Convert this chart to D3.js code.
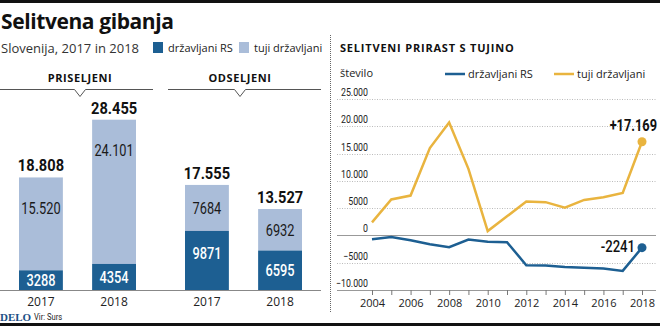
<!DOCTYPE html>
<html>
<head>
<meta charset="utf-8">
<script src="https://cdn.jsdelivr.net/npm/d3@7"></script>
<style>
  body { margin: 0; background: #fff; }
  svg { display: block; font-family: "Open Sans", "Noto Sans", sans-serif; }
  .num { font-family: "Roboto", "Liberation Sans", sans-serif; }
</style>
</head>
<body>
<script>
"use strict";

// stolpci: priseljeni / odseljeni, 2017 in 2018
var groups = ["PRISELJENI", "ODSELJENI"];
var barYears = ["2017", "2018"];
var drzavljaniRS = [[3288, 4354], [9871, 6595]];
var tujiDrzavljani = [[15520, 24101], [7684, 6932]];
var totals = [[18808, 28455], [17555, 13527]];

// selitveni prirast s tujino
var years = [2004, 2005, 2006, 2007, 2008, 2009, 2010, 2011, 2012, 2013, 2014, 2015, 2016, 2017, 2018];
var prirastRS = [-680, -310, -900, -1600, -2150, -740, -1170, -1230, -5460, -5500, -5770, -5900, -6050, -6500, -2241];
var prirastTuji = [2400, 6600, 7300, 16000, 20700, 12200, 800, 3500, 6200, 6100, 5100, 6500, 7000, 7800, 17169];
var yTicks = [-10000, -5000, 0, 5000, 10000, 15000, 20000, 25000];
var xTickLabels = [2004, 2006, 2008, 2010, 2012, 2014, 2016, 2018];

var dark = "#1d5f92", light = "#aabdd9", yellow = "#e9b43f";

var loc = d3.formatLocale({decimal: ",", thousands: ".", grouping: [3], currency: ["", ""]});
function fmt(v){
  return Math.abs(v) >= 10000 ? loc.format(",")(v) : loc.format("")(v);
}
// ozka pisava: ni na voljo, zato stisnemo vodoravno
function squeeze(fx, fy, sx){
  return function(d, i){
    var px = typeof fx === "function" ? fx(d, i) : fx;
    var py = typeof fy === "function" ? fy(d, i) : fy;
    return "translate(" + px + "," + py + ") scale(" + sx + ",1)";
  };
}

var width = 660, height = 326;
var svg = d3.select("body").append("svg")
  .attr("width", width)
  .attr("height", height);

// crni robovi
svg.append("rect").attr("x", 0).attr("y", 0).attr("width", width).attr("height", 3).attr("fill", "#111");
svg.append("rect").attr("x", 0).attr("y", 323).attr("width", width).attr("height", 3).attr("fill", "#111");

// naslov
svg.append("text").attr("x", 1).attr("y", 29)
  .attr("font-size", 21).attr("font-weight", 700).attr("fill", "#111")
  .attr("letter-spacing", -0.4)
  .text("Selitvena gibanja");
svg.append("text").attr("x", 1).attr("y", 53)
  .attr("font-size", 13).attr("fill", "#333")
  .text("Slovenija, 2017 in 2018");

// legenda
var leg = [{c: dark, t: "državljani RS", x: 153}, {c: light, t: "tuji državljani", x: 239}];
leg.forEach(function(l){
  svg.append("rect").attr("x", l.x).attr("y", 42).attr("width", 10).attr("height", 11).attr("fill", l.c);
  svg.append("text").attr("x", l.x + 15).attr("y", 52)
    .attr("font-size", 11).attr("fill", "#222").text(l.t);
});

// ---- stolpci
var bx = d3.scaleBand().domain(barYears).range([19, 136]).paddingInner(0.4);
var by = d3.scaleLinear().domain([0, 28455]).range([290, 119.7]);

var headerX = [80, 240];
groups.forEach(function(g, gi){
  var cx = headerX[gi];
  svg.append("text").attr("x", cx).attr("y", 82)
    .attr("text-anchor", "middle").attr("font-size", 11).attr("font-weight", 700)
    .attr("letter-spacing", 0.6).attr("fill", "#111").text(g);
  var x0 = gi === 0 ? 0 : 168, x1 = gi === 0 ? 153 : 321;
  svg.append("path")
    .attr("d", "M" + x0 + ",89.5H" + (cx - 5.5) + "L" + cx + ",96.5L" + (cx + 5.5) + ",89.5H" + x1)
    .attr("fill", "none").attr("stroke", "#555").attr("stroke-width", 1);
});

var offs = [0, 166];
groups.forEach(function(g, gi){
  var gg = svg.append("g").attr("transform", "translate(" + offs[gi] + ",0)");
  var rows = barYears.map(function(y, i){
    return {year: y, rs: drzavljaniRS[gi][i], tuji: tujiDrzavljani[gi][i], total: totals[gi][i]};
  });
  var cxf = function(d){ return bx(d.year) + bx.bandwidth() / 2; };
  var bars = gg.selectAll("g.bar").data(rows).enter().append("g").attr("class", "bar");
  bars.append("rect")
    .attr("x", function(d){ return bx(d.year); })
    .attr("width", bx.bandwidth())
    .attr("y", function(d){ return by(d.rs + d.tuji); })
    .attr("height", function(d){ return by(d.rs) - by(d.rs + d.tuji); })
    .attr("fill", light);
  bars.append("rect")
    .attr("x", function(d){ return bx(d.year); })
    .attr("width", bx.bandwidth())
    .attr("y", function(d){ return by(d.rs); })
    .attr("height", function(d){ return by(0) - by(d.rs); })
    .attr("fill", dark);
  bars.append("text").attr("class", "num")
    .attr("transform", squeeze(cxf, function(d){ return by(d.total) - 6; }, 0.86))
    .attr("text-anchor", "middle").attr("font-size", 17).attr("font-weight", 700)
    .attr("fill", "#111").text(function(d){ return fmt(d.total); });
  bars.append("text").attr("class", "num")
    .attr("transform", squeeze(cxf, function(d){
      var top = by(d.rs + d.tuji), mid = (top + by(d.rs)) / 2;
      return Math.min(mid, top + 31);
    }, 0.8))
    .attr("dy", "0.36em")
    .attr("text-anchor", "middle").attr("font-size", 16)
    .attr("fill", "#1a1a1a").text(function(d){ return fmt(d.tuji); });
  bars.append("text").attr("class", "num")
    .attr("transform", squeeze(cxf, function(d){
      var top = by(d.rs), mid = (top + by(0)) / 2;
      return Math.min(mid, top + 22);
    }, 0.8))
    .attr("dy", "0.36em")
    .attr("text-anchor", "middle").attr("font-size", 16).attr("font-weight", 500)
    .attr("fill", "#fff").text(function(d){ return fmt(d.rs); });
  bars.append("text")
    .attr("x", cxf)
    .attr("y", 306)
    .attr("text-anchor", "middle").attr("font-size", 12)
    .attr("fill", "#222").text(function(d){ return d.year; });
});
svg.append("line").attr("x1", 0).attr("x2", 321).attr("y1", 290.5).attr("y2", 290.5)
  .attr("stroke", "#888").attr("stroke-width", 1);

// vir
svg.append("text").attr("x", 0).attr("y", 321)
  .attr("font-family", "Liberation Serif, DejaVu Serif, serif").attr("font-weight", 700)
  .attr("font-size", 11).attr("fill", "#1d4f86").text("DELO");
svg.append("text").attr("class", "num").attr("transform", "translate(34,320) scale(0.8,1)")
  .attr("font-size", 9.5).attr("fill", "#222").text("Vir: Surs");

// locilna crta
svg.append("line").attr("x1", 330.5).attr("x2", 330.5).attr("y1", 35).attr("y2", 312)
  .attr("stroke", "#666").attr("stroke-dasharray", "1,1");

// ---- crtni grafikon
var x = d3.scaleLinear().domain([2004, 2018]).range([372, 642]);
var y = d3.scaleLinear().domain([-10000, 25000]).range([290, 99]);

svg.append("text").attr("x", 340).attr("y", 52)
  .attr("font-size", 11).attr("font-weight", 700).attr("letter-spacing", 0.8)
  .attr("fill", "#111").text("SELITVENI PRIRAST S TUJINO");
svg.append("text").attr("x", 340).attr("y", 77)
  .attr("font-size", 11).attr("fill", "#222").text("število");

var lleg = [{c: dark, t: "državljani RS", x: 445}, {c: yellow, t: "tuji državljani", x: 554}];
lleg.forEach(function(l){
  svg.append("line").attr("x1", l.x).attr("x2", l.x + 20).attr("y1", 74).attr("y2", 74)
    .attr("stroke", l.c).attr("stroke-width", 2.5);
  svg.append("text").attr("x", l.x + 23).attr("y", 78)
    .attr("font-size", 11).attr("fill", "#222").text(l.t);
});

var grid = svg.append("g");
grid.selectAll("line").data(yTicks).enter().append("line")
  .attr("x1", 337).attr("x2", 656)
  .attr("y1", function(d){ return Math.round(y(d)) + 0.5; })
  .attr("y2", function(d){ return Math.round(y(d)) + 0.5; })
  .attr("stroke", function(d){ return (d === 0 || d === -10000) ? "#999" : "#bbb"; })
  .attr("stroke-width", function(d){ return (d === 0 || d === -10000) ? 1.2 : 1; })
  .attr("stroke-dasharray", function(d){ return (d === 0 || d === -10000) ? null : "1,1.5"; });
grid.selectAll("text").data(yTicks).enter().append("text").attr("class", "num")
  .attr("transform", squeeze(368, function(d){ return y(d) - 3; }, 0.8))
  .attr("text-anchor", "end").attr("font-size", 11).attr("fill", "#222")
  .text(fmt);

var xAxis = svg.append("g").attr("transform", "translate(0," + y(-10000) + ")")
  .call(d3.axisBottom(x).tickValues(years).tickSize(5).tickFormat(function(d){
    return xTickLabels.indexOf(d) >= 0 ? d : "";
  }));
xAxis.select(".domain").remove();
xAxis.selectAll("line").attr("stroke", "#777");
xAxis.selectAll("text").attr("font-size", 11).attr("font-family", "Open Sans, sans-serif")
  .attr("fill", "#222").attr("dy", "0.85em");

var line = d3.line().x(function(d, i){ return x(years[i]); }).y(function(d){ return y(d); });
[{v: prirastTuji, c: yellow}, {v: prirastRS, c: dark}].forEach(function(s){
  svg.append("path").datum(s.v).attr("d", line)
    .attr("fill", "none").attr("stroke", s.c).attr("stroke-width", 2.5)
    .attr("stroke-linejoin", "miter");
  var last = s.v.length - 1;
  svg.append("circle").attr("cx", x(years[last])).attr("cy", y(s.v[last])).attr("r", 4.5)
    .attr("fill", s.c);
});

svg.append("text").attr("class", "num")
  .attr("transform", "translate(657,131) scale(0.8,1)")
  .attr("text-anchor", "end").attr("font-size", 16).attr("font-weight", 700)
  .attr("fill", "#111").text("+" + fmt(prirastTuji[prirastTuji.length - 1]));
svg.append("text").attr("class", "num")
  .attr("transform", "translate(635,252) scale(0.82,1)")
  .attr("text-anchor", "end").attr("font-size", 16).attr("font-weight", 500)
  .attr("fill", "#111").text("-" + fmt(Math.abs(prirastRS[prirastRS.length - 1])));
</script>
</body>
</html>
